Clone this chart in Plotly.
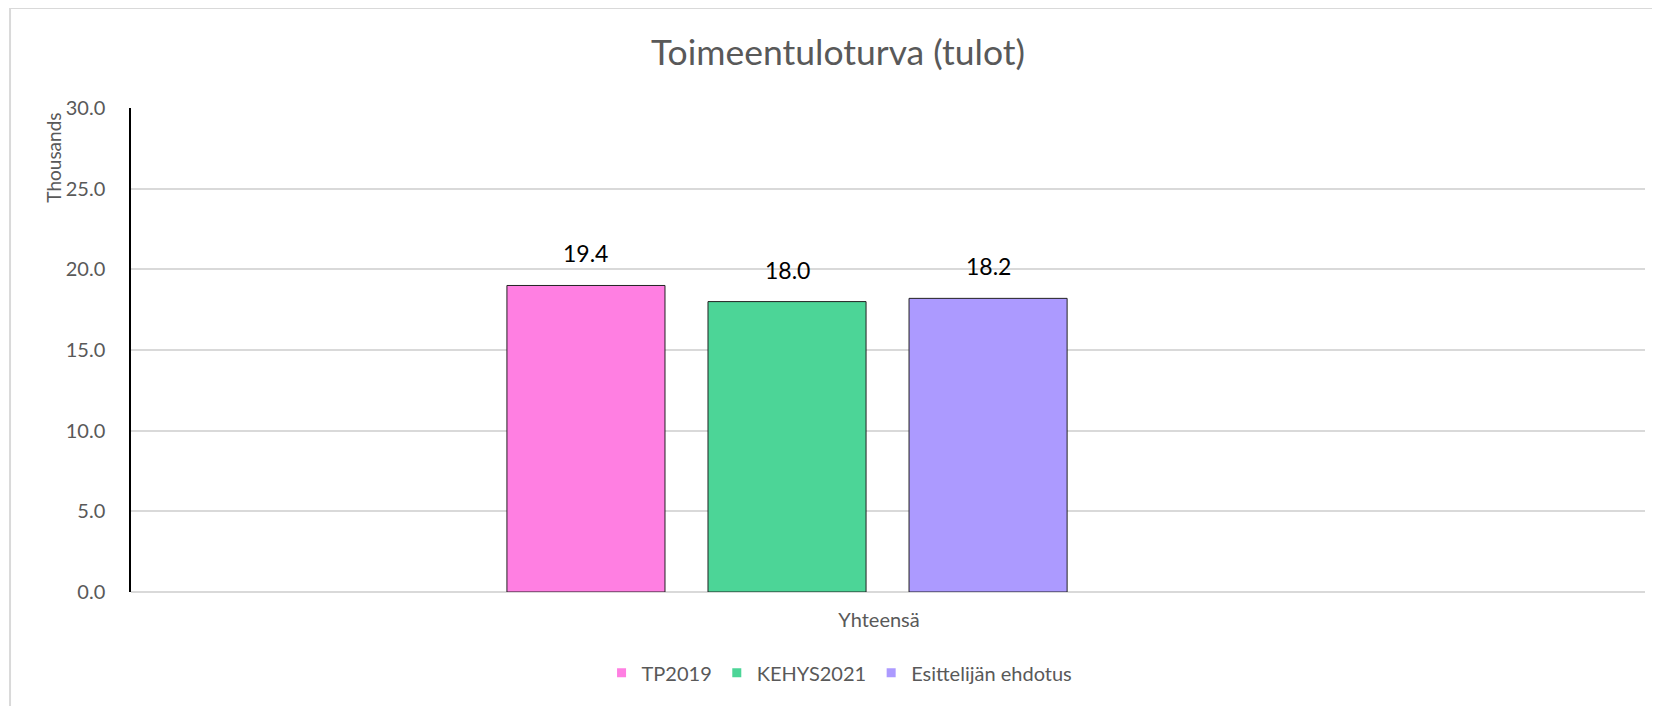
import plotly.graph_objects as go

categories = ["Yhteensä"]
series_names = ["TP2019", "KEHYS2021", "Esittelijän ehdotus"]
series_values = [[19.0], [18.0], [18.2]]
data_labels = ["19.4", "18.0", "18.2"]
y_ticks = [0, 5, 10, 15, 20, 25, 30]
y_tick_labels = ["0.0", "5.0", "10.0", "15.0", "20.0", "25.0", "30.0"]

colors = ["#FF7FE2", "#4CD597", "#AC9AFF"]
FONT = "Lato"
GREY = "#595959"
BAR_W = 0.1044
BAR_STEP = 0.1328
FIRST_OFFSET = -0.2517

fig = go.Figure()
for i, (name, vals) in enumerate(zip(series_names, series_values)):
    off = FIRST_OFFSET + i * BAR_STEP
    fig.add_trace(go.Bar(
        name=name, x=categories, y=vals,
        width=BAR_W, offset=off, showlegend=False,
        marker=dict(color=colors[i], line=dict(color="#222222", width=1)),
        hoverinfo="y",
    ))
    # legend entry: small plain square like the original
    fig.add_trace(go.Scatter(
        name=name, x=[None], y=[None], mode="markers",
        marker=dict(symbol="square", size=9, color=colors[i]),
        showlegend=True,
    ))
    fig.add_annotation(
        x=0 + off + BAR_W / 2, y=vals[0], xref="x", yref="y",
        text=data_labels[i], showarrow=False, yanchor="bottom", yshift=16,
        font=dict(family=FONT, size=23, color="#000000"),
    )

fig.add_annotation(
    text="Thousands", textangle=-90, xref="paper", yref="paper",
    x=-0.051, y=0.897, xanchor="center", yanchor="middle", showarrow=False,
    font=dict(family=FONT, size=19, color=GREY),
)

fig.add_shape(
    type="rect", xref="paper", yref="paper",
    x0=-0.0799, y0=-0.4, x1=1.1, y1=1.2066,
    line=dict(color="#D9D9D9", width=2), fillcolor="rgba(0,0,0,0)", layer="below",
)

fig.update_layout(
    width=1660, height=706,
    margin=dict(l=123, r=23, t=100, b=122),
    paper_bgcolor="white", plot_bgcolor="white",
    title=dict(text="Toimeentuloturva (tulot)", x=0.5, xref="container",
               y=1 - 45 / 706, yanchor="middle", xanchor="center",
               font=dict(family=FONT, size=35.5, color=GREY)),
    showlegend=True,
    legend=dict(orientation="h", x=0.468, y=-0.167, xanchor="center", yanchor="middle",
                font=dict(family=FONT, size=20, color=GREY), itemwidth=30),
    font=dict(family=FONT, color=GREY),
)
fig.update_xaxes(
    type="category", range=[-0.5, 0.5], showgrid=False, showline=False,
    ticks="", ticklabelstandoff=14, ticklabelshift=-9,
    tickfont=dict(family=FONT, size=20, color=GREY),
)
fig.update_yaxes(
    range=[0, 30], tickvals=y_ticks, ticktext=y_tick_labels,
    showgrid=True, gridcolor="#D9D9D9", gridwidth=1.5,
    zeroline=True, zerolinecolor="#D9D9D9", zerolinewidth=1.5,
    showline=True, linecolor="#000000", linewidth=1.5,
    ticks="", ticklabelstandoff=20,
    tickfont=dict(family=FONT, size=20, color=GREY),
)

fig.write_html("out.html")
